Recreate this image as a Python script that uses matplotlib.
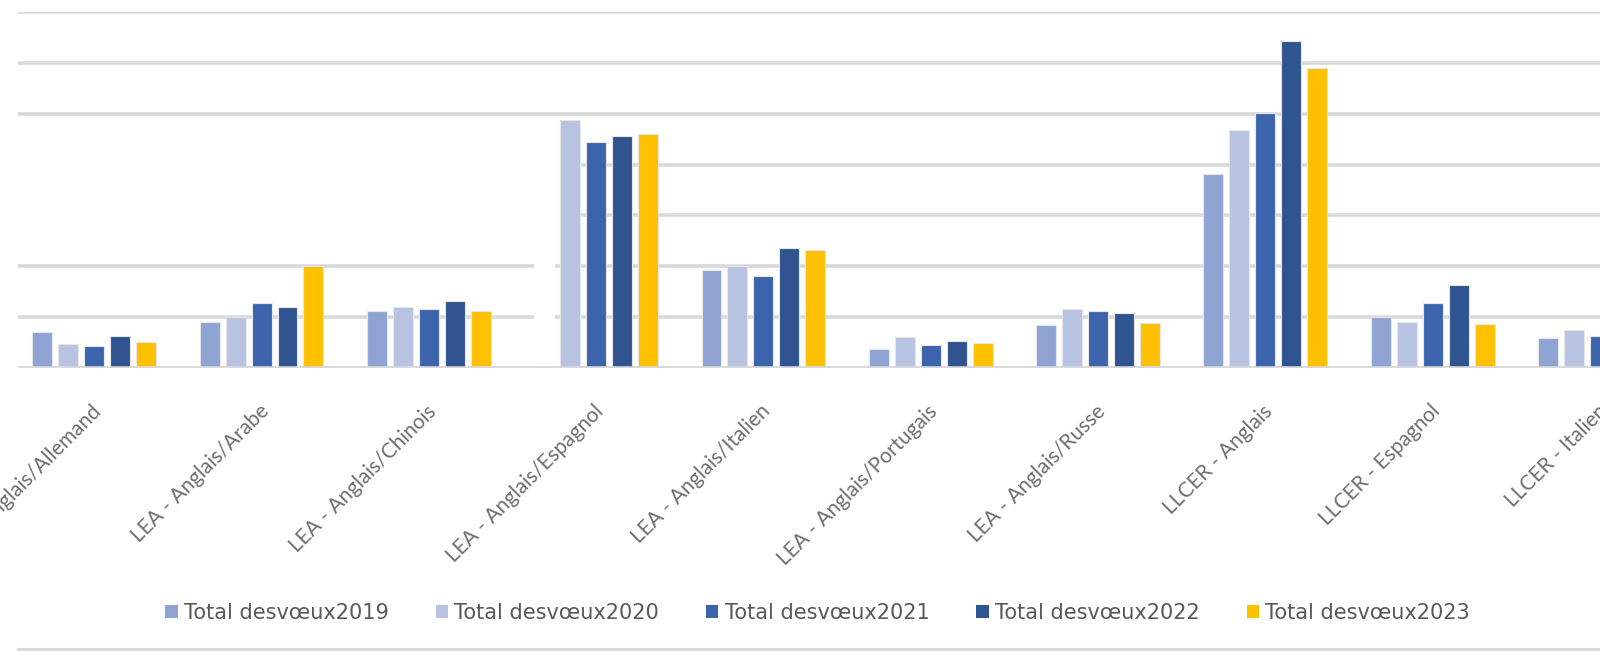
import numpy as np
import matplotlib
matplotlib.use("Agg")
import matplotlib.pyplot as plt
from matplotlib.patches import Patch, Rectangle
from matplotlib.lines import Line2D
from matplotlib.transforms import ScaledTranslation

categories = [
    "LEA - Anglais/Allemand", "LEA - Anglais/Arabe", "LEA - Anglais/Chinois",
    "LEA - Anglais/Espagnol", "LEA - Anglais/Italien", "LEA - Anglais/Portugais",
    "LEA - Anglais/Russe", "LLCER - Anglais", "LLCER - Espagnol", "LLCER - Italien",
]
series_names = ["Total desvœux2019", "Total desvœux2020", "Total desvœux2021",
                "Total desvœux2022", "Total desvœux2023"]
v2019 = [353, 449, 564, 2300, 963, 187, 420, 1910, 506, 295]
v2020 = [240, 506, 603, 2437, 1002, 304, 579, 2337, 449, 372]
v2021 = [218, 641, 583, 2225, 905, 223, 556, 2503, 641, 314]
v2022 = [314, 603, 660, 2283, 1180, 265, 537, 3218, 814, np.nan]
v2023 = [256, 1003, 564, 2302, 1160, 246, 443, 2952, 429, np.nan]
values = [v2019, v2020, v2021, v2022, v2023]
colors = ["#8FA4D3", "#B8C3E1", "#3C64AD", "#30548F", "#FFC000"]
hidden_bar = (0, 3)  # series 2019 of "LEA - Anglais/Espagnol" shows as white

W, H = 1600, 651
fig = plt.figure(figsize=(W / 100, H / 100), dpi=100)
ax_left = 18 / W
ax_bottom = (H - 368) / H
ax_h = (368 - 12) / H
ax = fig.add_axes([ax_left, ax_bottom, 1 - ax_left, ax_h])

pitch = 26 / 167.5
width = 20 / 167.5
x = np.arange(len(categories))
grid_col = "#D9D9D9"
for i, (vals, col) in enumerate(zip(values, colors)):
    offs = x + (i - 2) * pitch
    bars = ax.bar(offs, vals, width=width, color=col, edgecolor="#E6E6E6",
                  linewidth=0.8, zorder=3)
    if i == hidden_bar[0]:
        b = bars[hidden_bar[1]]
        b.set_facecolor("white")
        b.set_edgecolor("white")

# white area masking part of the grid (as in the reference screenshot)
rect_right = 3 + (1 - 2) * pitch - width / 2
ax.add_patch(Rectangle((-1, 1150), rect_right + 1, 1200, facecolor="white",
                       edgecolor="none", zorder=2))

ax.set_ylim(0, 3500)
ax.set_xlim(-(94.3 - 18) / 167.5, (1600 - 94.3) / 167.5)
ax.set_yticks(np.arange(0, 3501, 500))
ax.yaxis.grid(True, color=grid_col, linewidth=2.6, zorder=1)
ax.set_axisbelow(True)
ax.tick_params(axis="y", left=False, labelleft=False)
for s in ax.spines.values():
    s.set_visible(False)
ax.axhline(0, color=grid_col, linewidth=2.6, zorder=4)

ax.set_xticks(x)
ax.set_xticklabels(categories, rotation=45, ha="right", va="center",
                   rotation_mode="anchor", fontsize=15, color="#6E6E6E",
                   family=["Lato", "DejaVu Sans"])
ax.tick_params(axis="x", length=0, pad=29)
off = ScaledTranslation(4 / 100, 0, fig.dpi_scale_trans)
for lab in ax.get_xticklabels():
    lab.set_transform(lab.get_transform() + off)

handles = [Patch(facecolor=c, edgecolor="none") for c in colors]
leg = fig.legend(handles, series_names, loc="center", bbox_to_anchor=(0.511, (H - 613) / H),
                 ncol=5, frameon=False, handlelength=0.6, handleheight=0.6,
                 handletextpad=0.3, columnspacing=2.25,
                 prop={"family": "DejaVu Sans", "size": 15})
for t in leg.get_texts():
    t.set_color("#595959")

fig.add_artist(Line2D([18 / W, 1], [(H - 649) / H] * 2, color=grid_col, linewidth=2.2))

fig.savefig("out.png", dpi=100, facecolor="white")
